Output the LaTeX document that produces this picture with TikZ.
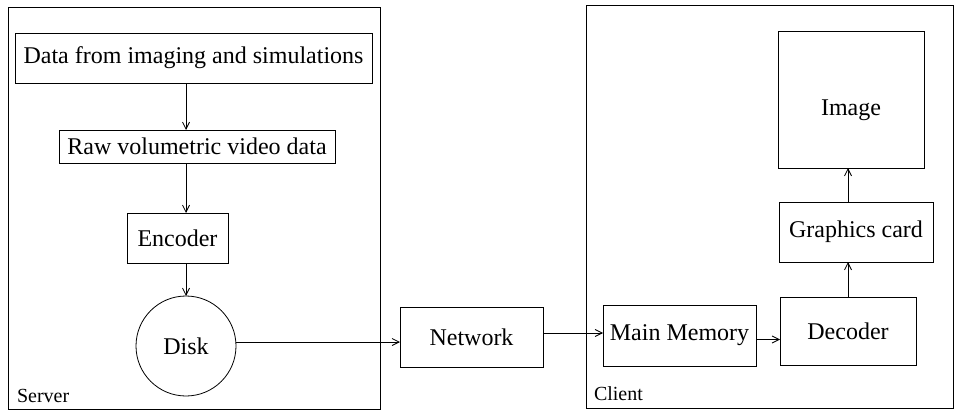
\documentclass[tikz,border=0pt]{standalone}
\usepackage{fontspec}
\setmainfont{Liberation Serif}
\usetikzlibrary{arrows.meta,calc}
\begin{document}
\begin{tikzpicture}[x=1pt,y=-1pt,
  every node/.style={inner sep=0pt,outer sep=0pt},
  box/.style={draw,line width=0.8pt,rectangle,font=\fontsize{24}{28}\selectfont},
  frame/.style={draw,line width=0.8pt},
  lbl/.style={font=\fontsize{20}{23}\selectfont,anchor=west},
  arr/.style={line width=0.8pt,-{Straight Barb[length=7pt,width=7pt]}}]
\useasboundingbox (0,0) rectangle (955,412);
\draw[frame] (8,7) rectangle (380,409);
\draw[frame] (586,5) rectangle (953,408);
\node[lbl] (server) at (17,396) {Server};
\node[lbl] (client) at (594,394) {Client};
\node[box,minimum width=357pt,minimum height=50pt] (data) at (193.5,58) {Data from imaging and simulations};
\node[box,minimum width=276pt,minimum height=33pt] (raw) at (197,146.5) {Raw volumetric video data};
\node[box,minimum width=101pt,minimum height=50pt] (enc) at (177.5,238) {Encoder};
\node[box,circle,minimum size=100pt] (disk) at (186,346) {Disk};
\node[box,minimum width=143pt,minimum height=60pt] (net) at (471.5,337) {Network};
\node[box,minimum width=153pt,minimum height=61pt] (mm) at (679.5,335.5) {Main Memory};
\node[box,minimum width=136pt,minimum height=68pt] (dec) at (848,331) {Decoder};
\node[box,minimum width=154pt,minimum height=60pt] (gfx) at (856,232) {Graphics card};
\node[box,minimum width=146pt,minimum height=137pt] (img) at (851,99.5) {\raisebox{-16pt}[0pt][0pt]{Image}};
\coordinate (d1) at ($(disk.east)+(0,-4)$);
\coordinate (n1) at ($(net.east)+(0,-4)$);
\coordinate (m1) at ($(mm.east)+(0,4)$);
\draw[arr] (data.south -| disk.north) -- (raw.north -| disk.north);
\draw[arr] (raw.south -| disk.north) -- (enc.north -| disk.north);
\draw[arr] (enc.south -| disk.north) -- (disk.north);
\draw[arr] (d1) -- (net.west |- d1);
\draw[arr] (n1) -- (mm.west |- n1);
\draw[arr] (m1) -- (dec.west |- m1);
\draw[arr] (dec.north) -- (gfx.south -| dec.north);
\draw[arr] (gfx.north -| dec.north) -- (img.south -| dec.north);
\end{tikzpicture}
\end{document}
